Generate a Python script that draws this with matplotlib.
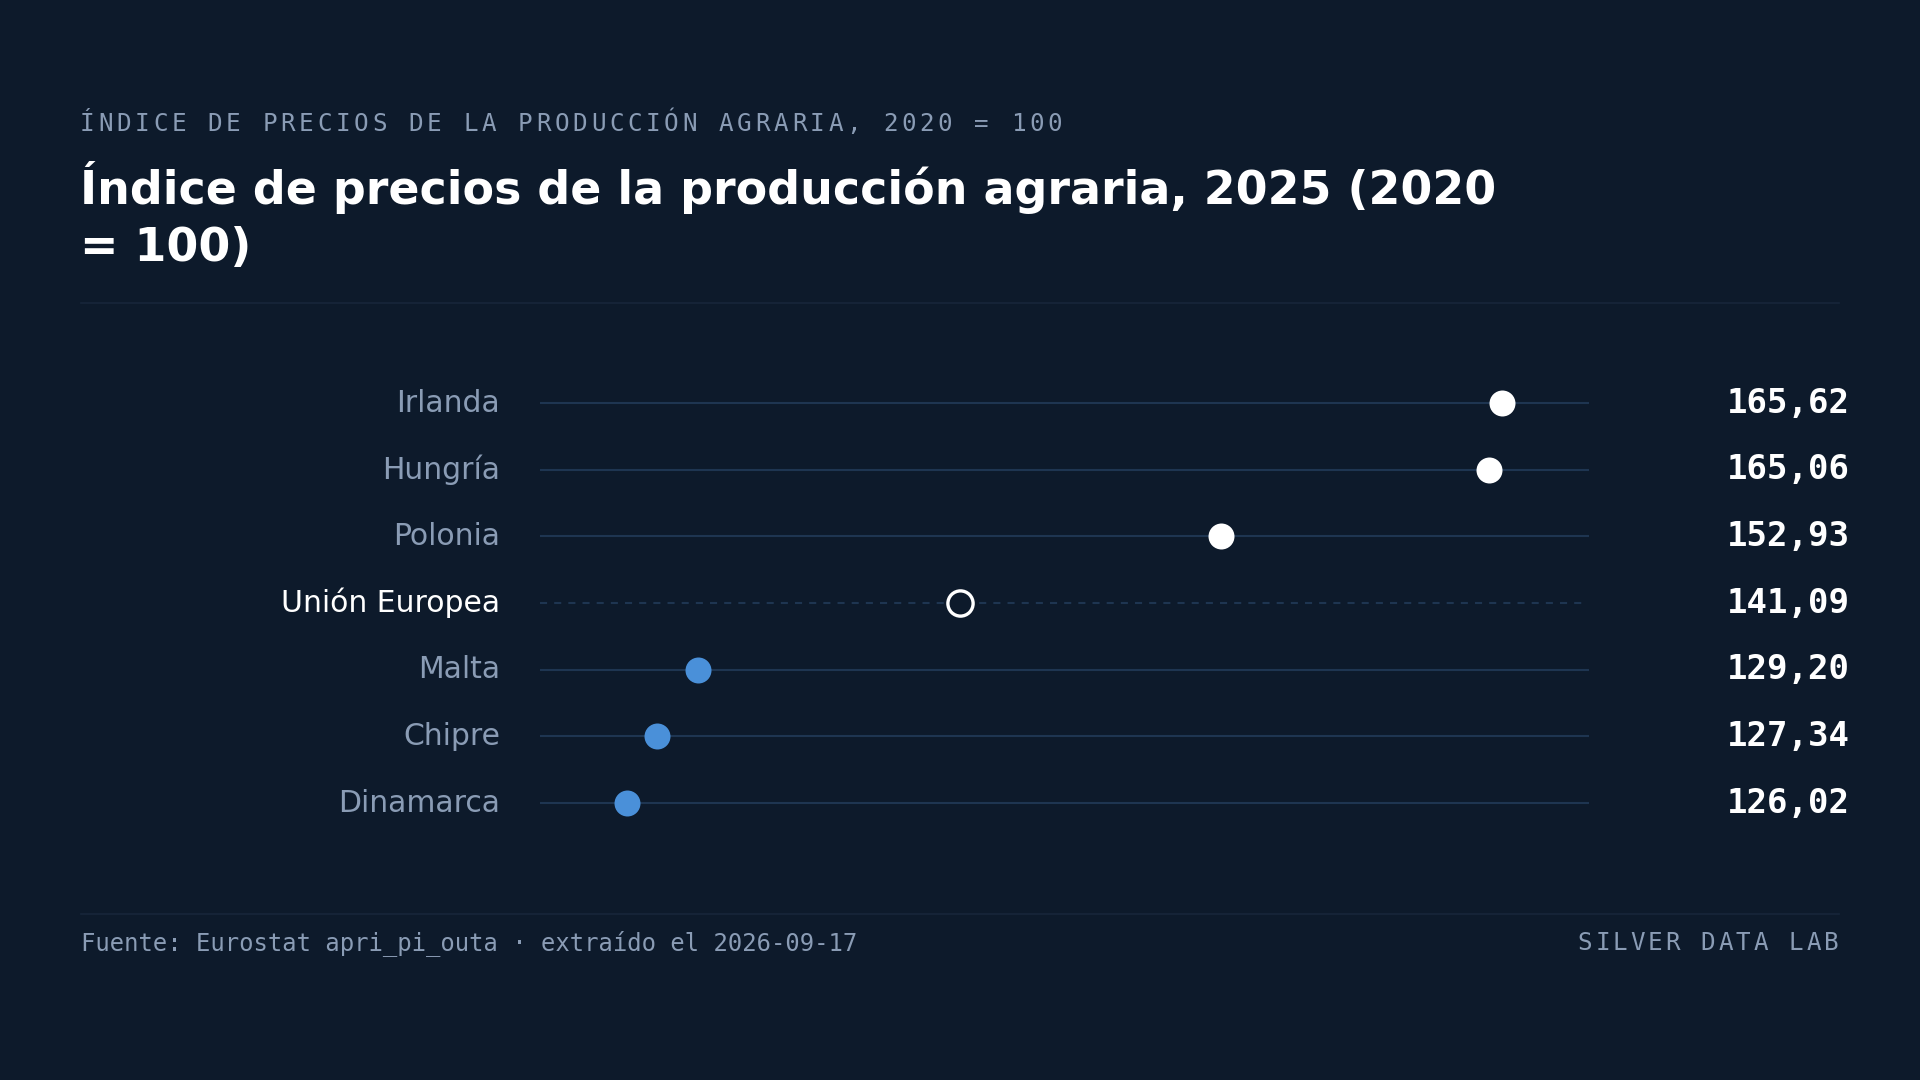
import matplotlib
matplotlib.use("Agg")
import matplotlib.pyplot as plt
import matplotlib.transforms as mtransforms

# datos (de arriba a abajo)
paises = ["Irlanda", "Hungría", "Polonia", "Unión Europea", "Malta", "Chipre", "Dinamarca"]
valores = [165.62, 165.06, 152.93, 141.09, 129.20, 127.34, 126.02]
referencia = "Unión Europea"

subtitulo = "ÍNDICE DE PRECIOS DE LA PRODUCCIÓN AGRARIA, 2020 = 100"
titulo = "Índice de precios de la producción agraria, 2025 (2020\n= 100)"
fuente = "Fuente: Eurostat apri_pi_outa · extraído el 2026-09-17"
marca = "SILVER DATA LAB"

# colores
BG = "#0d1a2b"
LINEA = "#1e3551"
SEP = "#17263a"
GRIS = "#8a9cb5"
BLANCO = "#ffffff"
AZUL = "#4a90d9"

W, H = 1920, 1080
fig = plt.figure(figsize=(W / 100, H / 100), dpi=100, facecolor=BG)


def px(x, y):
    """pixeles (origen arriba-izquierda) -> fraccion de figura"""
    return x / W, 1 - y / H


def texto_espaciado(x0, y, s, paso, **kw):
    # letter-spacing a mano: fuente monoespaciada, un caracter por posicion
    for i, ch in enumerate(s):
        if ch == " ":
            continue
        fx, fy = px(x0 + i * paso, y)
        fig.text(fx, fy, ch, ha="left", va="center", **kw)


# cabecera
texto_espaciado(80, 124, subtitulo, 18.25, fontsize=17.5, color=GRIS,
                family="DejaVu Sans Mono")
fx, fy = px(80, 161.5)
fig.text(fx, fy, titulo, ha="left", va="top", fontsize=33, fontweight="bold",
         color=BLANCO, family="DejaVu Sans", linespacing=1.33)
fig.add_artist(plt.Line2D([81 / W, 1839 / W], [1 - 302.5 / H] * 2,
                          color=SEP, lw=1.2, transform=fig.transFigure))

# ejes del grafico de puntos
ax = fig.add_axes([540 / W, 1 - 836.5 / H, 1049 / W, 466.7 / H])
ax.set_facecolor(BG)
for s in ax.spines.values():
    s.set_visible(False)
ax.set_xticks([])
ax.set_yticks([])

vmin, vmax = min(valores), max(valores)
rango = vmax - vmin
ax.set_xlim(vmin - 0.1 * rango, vmax + 0.1 * rango)
ax.set_ylim(len(paises) - 0.5, -0.5)

v_ref = valores[paises.index(referencia)]
trans_lbl = mtransforms.blended_transform_factory(fig.transFigure, ax.transData)

x0, x1 = ax.get_xlim()
for i, (p, v) in enumerate(zip(paises, valores)):
    if p == referencia:
        ax.hlines(i, x0, x1 - 0.006 * rango, color=LINEA, lw=1.5,
                  linestyles=(0, (3.4, 3.4)), zorder=1)
        ax.scatter([v], [i], s=330, facecolor=BG, edgecolor=BLANCO,
                   linewidth=2.4, zorder=3)
        col_lbl = BLANCO
    else:
        ax.hlines(i, x0, x1, color=LINEA, lw=1.5, zorder=1)
        color = BLANCO if v > v_ref else AZUL
        ax.scatter([v], [i], s=350, color=color, linewidth=0, zorder=3)
        col_lbl = GRIS
    ax.text(500 / W, i, p, transform=trans_lbl, ha="right", va="center",
            fontsize=21.5, color=col_lbl, family="DejaVu Sans")
    ax.text(1850 / W, i, f"{v:.2f}".replace(".", ","), transform=trans_lbl,
            ha="right", va="center", fontsize=24.5, fontweight="bold",
            color=BLANCO, family="DejaVu Sans Mono")

# pie
fig.add_artist(plt.Line2D([81 / W, 1839 / W], [1 - 913.5 / H] * 2,
                          color=SEP, lw=1.2, transform=fig.transFigure))
fx, fy = px(81, 943)
fig.text(fx, fy, fuente, ha="left", va="center", fontsize=17.2, color=GRIS,
         family="DejaVu Sans Mono")
paso_marca = 17.6
texto_espaciado(1837 - 13 - (len(marca) - 1) * paso_marca, 943, marca, paso_marca,
                fontsize=17.5, color=GRIS, family="DejaVu Sans Mono")

fig.savefig("out.png", dpi=100, facecolor=BG)
